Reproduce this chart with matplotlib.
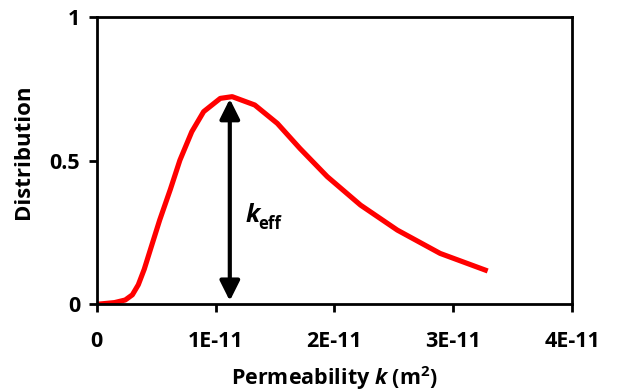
import matplotlib
matplotlib.use("Agg")
from matplotlib import pyplot as plt

# curve (x in units of 1E-11 m^2)
perm = [0.0, 0.15, 0.24, 0.30, 0.35, 0.40, 0.45, 0.53, 0.62, 0.70, 0.80, 0.90, 1.04,
        1.14, 1.33, 1.52, 1.71, 1.94, 2.22, 2.53, 2.89, 3.27]
dist = [0.0, 0.006, 0.015, 0.033, 0.068, 0.122, 0.188, 0.293, 0.400, 0.501, 0.600, 0.670,
        0.716, 0.722, 0.693, 0.629, 0.542, 0.444, 0.345, 0.258, 0.177, 0.119]
k_eff = 1.12
peak = 0.722
xticks = [0, 1, 2, 3, 4]
xticklabels = ["0", "1E-11", "2E-11", "3E-11", "4E-11"]
yticks = [0, 0.5, 1]
yticklabels = ["0", "0.5", "1"]

plt.rcParams["font.family"] = ["Open Sans", "DejaVu Sans"]
plt.rcParams["font.weight"] = "bold"
plt.rcParams["mathtext.fontset"] = "custom"
plt.rcParams["mathtext.bf"] = "Open Sans:bold"
plt.rcParams["mathtext.bfit"] = "Open Sans:italic:bold"
plt.rcParams["mathtext.rm"] = "Open Sans:bold"

fig = plt.figure(figsize=(6.18, 3.92), dpi=100)
ax = fig.add_axes([0.1565, 0.2237, 0.7691, 0.7337])

ax.plot(perm, dist, color="#ff0000", lw=3.7, solid_joinstyle="round")

ax.annotate("", xy=(k_eff, peak - 0.008), xytext=(k_eff, 0.012),
            arrowprops=dict(arrowstyle="<|-|>,head_length=0.6,head_width=0.3",
                            mutation_scale=20, lw=3, color="black",
                            shrinkA=0, shrinkB=0))
ax.text(1.25, 0.31, "k", fontsize=18, style="italic", fontweight="bold",
        ha="left", va="center")
ax.text(1.36, 0.28, "eff", fontsize=12, fontweight="bold", ha="left", va="center")

ax.set_xlim(0, 4)
ax.set_ylim(0, 1)
ax.set_xticks(xticks)
ax.set_xticklabels(xticklabels)
ax.set_yticks(yticks)
ax.set_yticklabels(yticklabels)
ax.tick_params(direction="out", length=6, width=2, labelsize=15.5, pad=13)
ax.tick_params(axis="y", pad=6)
for s in ax.spines.values():
    s.set_linewidth(2)

ax.set_xlabel(r"Permeability $\mathbfit{k}$ (m$^\mathbf{2}$)", fontsize=15.5, fontweight="bold", labelpad=9)
ax.set_ylabel("Distribution", fontsize=16, fontweight="bold")
ax.yaxis.set_label_coords(-0.132, 0.53)

fig.savefig("out.png", dpi=100)
